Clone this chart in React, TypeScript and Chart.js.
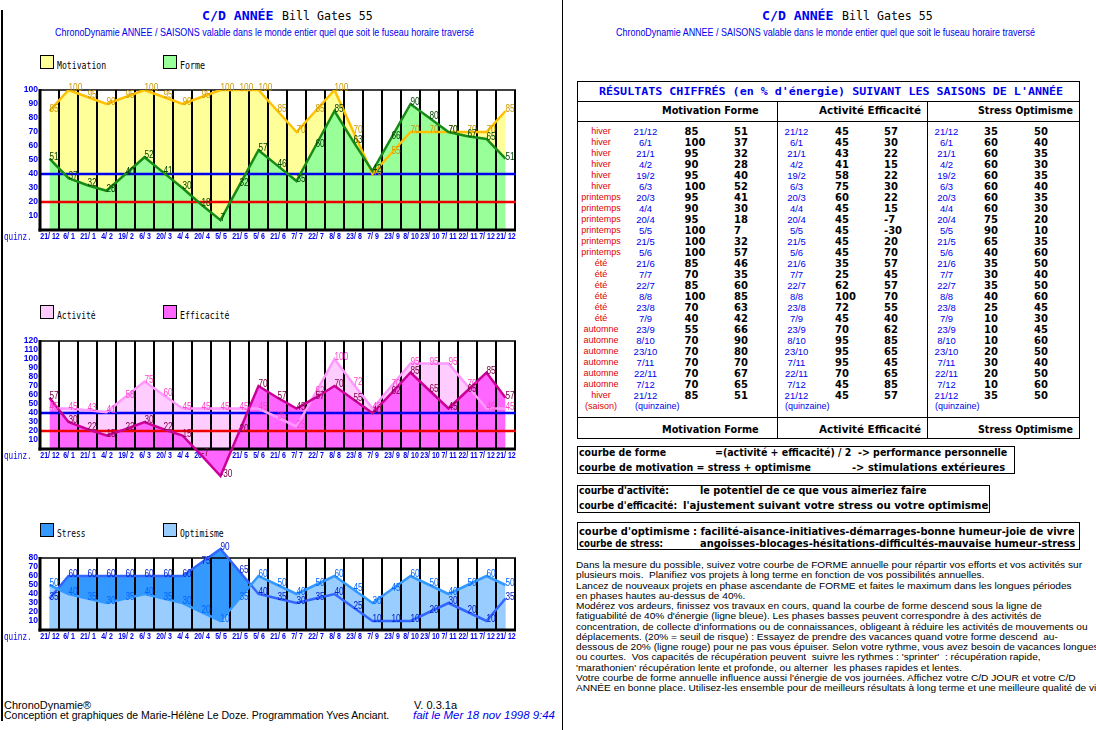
import React, { useEffect, useLayoutEffect, useRef } from 'react';
import { Chart, registerables } from 'chart.js';
Chart.register(...registerables);

// ---------- DATA ----------
const dates = ['21/12', '6/1', '21/1', '4/2', '19/2', '6/3', '20/3', '4/4', '20/4', '5/5', '21/5', '5/6', '21/6', '7/7', '22/7', '8/8', '23/8', '7/9', '23/9', '8/10', '23/10', '7/11', '22/11', '7/12', '21/12'];
const seasons = ['hiver', 'hiver', 'hiver', 'hiver', 'hiver', 'hiver', 'printemps', 'printemps', 'printemps', 'printemps', 'printemps', 'printemps', 'été', 'été', 'été', 'été', 'été', 'été', 'automne', 'automne', 'automne', 'automne', 'automne', 'automne', 'hiver'];
const motivation = [85, 100, 95, 90, 95, 100, 95, 90, 95, 100, 100, 100, 85, 70, 85, 100, 70, 40, 55, 70, 70, 70, 70, 70, 85];
const forme = [51, 37, 32, 28, 40, 52, 41, 30, 18, 7, 32, 57, 46, 35, 60, 85, 63, 42, 66, 90, 80, 70, 67, 65, 51];
const activite = [45, 45, 43, 41, 58, 75, 60, 45, 45, 45, 45, 45, 35, 25, 62, 100, 72, 45, 70, 95, 95, 95, 70, 45, 45];
const efficacite = [57, 30, 22, 15, 22, 30, 22, 15, -7, -30, 20, 70, 57, 45, 57, 70, 55, 40, 62, 85, 65, 45, 65, 85, 57];
const stress = [35, 60, 60, 60, 60, 60, 60, 60, 75, 90, 65, 40, 35, 30, 35, 40, 25, 10, 10, 10, 20, 30, 20, 10, 35];
const optimisme = [50, 40, 35, 30, 35, 40, 35, 30, 20, 10, 35, 60, 50, 40, 50, 60, 45, 30, 45, 60, 50, 40, 50, 60, 50];
const ticksForme = [10, 20, 30, 40, 50, 60, 70, 80, 90, 100];
const ticksActivite = [10, 20, 30, 40, 50, 60, 70, 80, 90, 100, 110, 120];
const ticksStress = [10, 20, 30, 40, 50, 60, 70, 80];
const fatigueLevel = 40; // ligne bleue
const riskLevel = 20; // ligne rouge
const xLabels = dates.map((d) => d.replace('/', '/ '));

const paraLines = [
  'Dans la mesure du possible, suivez votre courbe de FORME annuelle pour répartir vos efforts et vos activités sur',
  'plusieurs mois.  Planifiez vos projets à long terme en fonction de vos possibilités annuelles.',
  'Lancez de nouveaux projets en phase ascendante de FORME et faites le maximum dans les longues périodes',
  'en phases hautes au-dessus de 40%.',
  'Modérez vos ardeurs, finissez vos travaux en cours, quand la courbe de forme descend sous la ligne de',
  "fatiguabilité de 40% d'énergie (ligne bleue). Les phases basses peuvent correspondre à des activités de",
  "concentration, de collecte d'informations ou de connaissances, obligeant à réduire les activités de mouvements ou",
  'déplacements. (20% = seuil de risque) : Essayez de prendre des vacances quand votre forme descend  au-',
  'dessous de 20% (ligne rouge) pour ne pas vous épuiser. Selon votre rythme, vous avez besoin de vacances longues',
  "ou courtes.  Vos capacités de récupération peuvent  suivre les rythmes : 'sprinter'  : récupération rapide,",
  "'marathonien' récupération lente et profonde, ou alterner  les phases rapides et lentes.",
  "Votre courbe de forme annuelle influence aussi l'énergie de vos journées. Affichez votre C/D JOUR et votre C/D",
  'ANNÉE en bonne place. Utilisez-les ensemble pour de meilleurs résultats à long terme et une meilleure qualité de vie',
];

const BLUE = '#0000ee';
const RED = '#e00000';

type Ser = { name: string; data: number[]; line: string; fill: string; text: string };

function scaledText(ctx: CanvasRenderingContext2D, t: string, x: number, y: number, sx: number) {
  ctx.save();
  ctx.translate(x, y);
  ctx.scale(sx, 1);
  ctx.fillText(t, 0, 0);
  ctx.restore();
}

function LineChart({ top, height, yMin, yMax, frameMax, ticks, padTop, padBottom, series, levels }: {
  top: number; height: number; yMin: number; yMax: number; frameMax: number; ticks: number[]; padTop: number; padBottom: number; series: Ser[]; levels: boolean;
}) {
  const ref = useRef<HTMLCanvasElement>(null);
  useEffect(() => {
    const cv = ref.current!;
    const decor = {
      id: 'decor',
      beforeDraw(chart: any) {
        const { ctx, chartArea: a, scales } = chart;
        const x = scales.x, y = scales.y;
        const y0 = y.getPixelForValue(0);
        ctx.save();
        ctx.fillStyle = BLUE;
        ctx.font = 'bold 9px "Liberation Sans"';
        ctx.textAlign = 'right';
        ctx.textBaseline = 'middle';
        ticks.forEach((t) => scaledText(ctx, String(t), a.left - 2, y.getPixelForValue(t), 0.95));
        ctx.textAlign = 'center';
        xLabels.forEach((l, i) => scaledText(ctx, l, x.getPixelForValue(i) + 0.5, y0 + 7, 0.78));
        ctx.textAlign = 'left';
        ctx.font = '10px "Liberation Mono"';
        scaledText(ctx, 'quinz.', 4, y0 + 7, 0.77);
        ctx.restore();
      },
      beforeDatasetsDraw(chart: any) {
        const { ctx, chartArea: a, scales } = chart;
        const x = scales.x, y = scales.y;
        const y0 = y.getPixelForValue(0);
        const yt = y.getPixelForValue(frameMax);
        const n = xLabels.length;
        ctx.save();
        ctx.strokeStyle = '#000';
        ctx.lineWidth = 2;
        for (let i = 1; i <= n; i++) {
          const gx = Math.round(x.getPixelForValue(i - 0.5));
          ctx.beginPath();
          ctx.moveTo(gx, yt);
          ctx.lineTo(gx, y0);
          ctx.stroke();
        }
        ctx.lineWidth = 1.5;
        ctx.beginPath();
        ctx.moveTo(a.left, yt);
        ctx.lineTo(a.right + 1, yt);
        ctx.stroke();
        if (levels) {
          const lv = [
            { v: fatigueLevel, c: '#0000ee' },
            { v: riskLevel, c: '#ee0000' },
          ];
          lv.forEach(({ v, c }) => {
            const ly = y.getPixelForValue(v);
            ctx.strokeStyle = c;
            ctx.lineWidth = 2.5;
            ctx.beginPath();
            ctx.moveTo(a.left, ly);
            ctx.lineTo(a.right + 1, ly);
            ctx.stroke();
          });
        }
        ctx.strokeStyle = '#000';
        ctx.lineWidth = 3;
        ctx.beginPath();
        ctx.moveTo(a.left, yt - 1);
        ctx.lineTo(a.left, y0 + 1.5);
        ctx.stroke();
        ctx.beginPath();
        ctx.moveTo(a.left - 1.5, y0);
        ctx.lineTo(a.right + 1, y0);
        ctx.stroke();
        ctx.restore();
      },
      afterDatasetsDraw(chart: any) {
        const { ctx, scales } = chart;
        const x = scales.x, y = scales.y;
        ctx.save();
        ctx.font = '11px "Liberation Sans"';
        ctx.textAlign = 'left';
        ctx.textBaseline = 'alphabetic';
        for (let s = series.length - 1; s >= 0; s--) {
          const ser = series[s];
          ctx.fillStyle = ser.text;
          ser.data.forEach((v, i) => {
            scaledText(ctx, String(v), x.getPixelForValue(i), y.getPixelForValue(v) + 1, 0.75);
          });
        }
        ctx.restore();
      },
    };
    const chart = new Chart(cv, {
      type: 'line',
      data: {
        labels: xLabels,
        datasets: series.map((s) => ({
          label: s.name,
          data: s.data,
          borderColor: s.line,
          backgroundColor: s.fill,
          borderWidth: 2.5,
          fill: 'origin',
          pointRadius: 0,
          tension: 0,
        })),
      },
      options: {
        responsive: false,
        animation: false,
        devicePixelRatio: 1,
        layout: { padding: { left: 40, right: 45, top: padTop, bottom: padBottom } },
        scales: {
          x: { type: 'category', display: false, offset: true },
          y: { display: false, min: yMin, max: yMax },
        },
        plugins: {
          legend: { display: false },
          tooltip: { enabled: false },
          filler: { drawTime: 'beforeDatasetsDraw' },
        } as any,
      },
      plugins: [decor],
    });
    return () => chart.destroy();
  }, []);
  return <canvas ref={ref} width={560} height={height} style={{ position: 'absolute', left: 0, top, width: 560, height }} />;
}

function FT({ x, y, w, text, font, color = '#000', italic = false }: { x: number; y: number; w?: number; text: string; font: string; color?: string; italic?: boolean }) {
  const ref = useRef<HTMLDivElement>(null);
  useLayoutEffect(() => {
    const el = ref.current;
    if (!el || !w) return;
    el.style.transform = 'none';
    const nat = el.offsetWidth;
    if (nat > 0) el.style.transform = `scaleX(${w / nat})`;
  }, [w, text, font]);
  const fs = parseFloat((font.match(/([\d.]+)px/) || ['', '10'])[1]);
  return (
    <div ref={ref} style={{ position: 'absolute', left: x, top: y - fs * 0.62, font, color, whiteSpace: 'pre', lineHeight: `${fs * 1.2}px`, transformOrigin: '0 0', fontStyle: italic ? 'italic' : 'normal' }}>
      {text}
    </div>
  );
}

function T({ x, y, text, font, color = '#000', center = false }: { x: number; y: number; text: string; font: string; color?: string; center?: boolean }) {
  const fs = parseFloat((font.match(/([\d.]+)px/) || ['', '10'])[1]);
  return (
    <div style={{ position: 'absolute', left: x, top: y - fs * 0.62, font, color, whiteSpace: 'pre', lineHeight: `${fs * 1.2}px`, transform: center ? 'translateX(-50%)' : undefined }}>
      {text}
    </div>
  );
}

function Box({ x, y, w, h, bg, border = '1px solid #000' }: { x: number; y: number; w: number; h: number; bg?: string; border?: string }) {
  return <div style={{ position: 'absolute', left: x, top: y, width: w, height: h, background: bg, border, boxSizing: 'border-box' }} />;
}

function Line({ x, y, w, h, c = '#000' }: { x: number; y: number; w: number; h: number; c?: string }) {
  return <div style={{ position: 'absolute', left: x, top: y, width: w, height: h, background: c }} />;
}

const LEG_FONT = '11px "DejaVu Sans Mono"';

function Legend({ y, a, b }: { y: number; a: { c: string; t: string; w: number }; b: { c: string; t: string; w: number } }) {
  return (
    <>
      <Box x={40} y={y} w={14} h={14} bg={a.c} />
      <FT x={57} y={y + 11} w={a.w} text={a.t} font={LEG_FONT} />
      <Box x={163} y={y} w={14} h={14} bg={b.c} />
      <FT x={180} y={y + 11} w={b.w} text={b.t} font={LEG_FONT} />
    </>
  );
}

function Para() {
  const ref = useRef<HTMLDivElement>(null);
  useLayoutEffect(() => {
    const el = ref.current!;
    const first = el.firstElementChild as HTMLElement;
    el.style.transform = `scaleX(${506 / first.offsetWidth})`;
  }, []);
  return (
    <div ref={ref} style={{ position: 'absolute', left: 576, top: 566 - 6, transformOrigin: '0 0', font: '9px "Liberation Sans"', lineHeight: '10.25px', whiteSpace: 'pre', color: '#000' }}>
      {paraLines.map((l, i) => (
        <div key={i} style={{ width: 'max-content' }}>{l}</div>
      ))}
    </div>
  );
}

function Titles({ x1, x2, xs }: { x1: number; x2: number; xs: number }) {
  return (
    <>
      <FT x={x1} y={16} w={71} text="C/D ANNÉE" font='bold 13px "DejaVu Sans Mono"' color={BLUE} />
      <FT x={x2} y={16} w={91} text="Bill Gates 55" font='13px "DejaVu Sans Mono"' color="#000" />
      <FT x={xs} y={32.5} w={419} text="ChronoDynamie ANNEE / SAISONS valable dans le monde entier quel que soit le fuseau horaire traversé" font='11px "Liberation Sans"' color={BLUE} />
    </>
  );
}

const VAL_FONT = 'bold 10px "DejaVu Sans"';
const DATE_FONT = '9.5px "Liberation Sans"';
const HEAD_FONT = 'bold 10px "DejaVu Sans"';
const BOX_FONT = 'bold 10px "DejaVu Sans"';

function Table() {
  const rowY = (i: number) => 131.7 + 11 * i;
  const groups = [
    { dx: 645.5, a: motivation, b: forme, ax: 684.5, bx: 734 },
    { dx: 796.5, a: activite, b: efficacite, ax: 835, bx: 884 },
    { dx: 946.5, a: stress, b: optimisme, ax: 984, bx: 1034 },
  ];
  const heads = [
    { x: 661.7, w: 96.3, t: 'Motivation Forme' },
    { x: 819, w: 101.6, t: 'Activité Efficacité' },
    { x: 978, w: 95, t: 'Stress Optimisme' },
  ];
  return (
    <>
      <Box x={577} y={81} w={503} h={358} />
      <Line x={577} y={101} w={503} h={1} />
      <Line x={577} y={121} w={503} h={1} />
      <Line x={577} y={416.5} w={503} h={1.5} />
      <Line x={777} y={101} w={1} h={338} />
      <Line x={927} y={101} w={1} h={338} />
      <FT x={598.7} y={91.5} w={464} text="RÉSULTATS CHIFFRÉS (en % d'énergie) SUIVANT LES SAISONS DE L'ANNÉE" font='bold 11px "DejaVu Sans Mono"' color={BLUE} />
      {heads.map((h, i) => (
        <React.Fragment key={i}>
          <FT x={h.x} y={111.5} w={h.w} text={h.t} font={HEAD_FONT} />
          <FT x={h.x} y={430} w={h.w} text={h.t} font={HEAD_FONT} />
        </React.Fragment>
      ))}
      {dates.map((d, i) => (
        <React.Fragment key={i}>
          <T x={601} y={rowY(i)} text={seasons[i]} font='9px "Liberation Sans"' color={RED} center />
          {groups.map((g, gi) => (
            <React.Fragment key={gi}>
              <T x={g.dx} y={rowY(i)} text={d} font={DATE_FONT} color={BLUE} center />
              <T x={g.ax} y={rowY(i)} text={String(g.a[i])} font={VAL_FONT} />
              <T x={g.bx} y={rowY(i)} text={String(g.b[i])} font={VAL_FONT} />
            </React.Fragment>
          ))}
        </React.Fragment>
      ))}
      <T x={585} y={406.7} text="(saison)" font='9px "Liberation Sans"' color={RED} />
      <T x={635} y={406.7} text="(quinzaine)" font='9px "Liberation Sans"' color={BLUE} />
      <T x={785} y={406.7} text="(quinzaine)" font='9px "Liberation Sans"' color={BLUE} />
      <T x={935} y={406.7} text="(quinzaine)" font='9px "Liberation Sans"' color={BLUE} />

      <Box x={577} y={446} w={438} h={28} />
      <FT x={579} y={453.5} w={87} text="courbe de forme" font={BOX_FONT} />
      <FT x={715} y={453.5} w={292} text="=(activité + efficacité) / 2  -> performance personnelle" font={BOX_FONT} />
      <FT x={579} y={468.5} w={232} text="courbe de motivation = stress + optimisme" font={BOX_FONT} />
      <FT x={852} y={468.5} w={153} text="-> stimulations extérieures" font={BOX_FONT} />

      <Box x={577} y={484.5} w={413} h={28} />
      <FT x={579} y={491} w={90} text="courbe d'activité:" font={BOX_FONT} />
      <FT x={700} y={491} w={226} text="le potentiel de ce que vous aimeriez faire" font={BOX_FONT} />
      <FT x={579} y={506} w={98} text="courbe d'efficacité:" font={BOX_FONT} />
      <FT x={683} y={506} w={305} text="l'ajustement suivant votre stress ou votre optimisme" font={BOX_FONT} />

      <Box x={577} y={522} w={503} h={28} />
      <FT x={579} y={532} w={496} text="courbe d'optimisme : facilité-aisance-initiatives-démarrages-bonne humeur-joie de vivre" font={BOX_FONT} />
      <FT x={579} y={544.5} w={84} text="courbe de stress:" font={BOX_FONT} />
      <FT x={700} y={544.5} w={375} text="angoisses-blocages-hésitations-difficultés-mauvaise humeur-stress" font={BOX_FONT} />
    </>
  );
}

export default function App() {
  const s1: Ser[] = [
    { name: 'Forme', data: forme, line: '#168c16', fill: '#99ff99', text: '#004400' },
    { name: 'Motivation', data: motivation, line: '#ffc000', fill: '#ffff99', text: '#cc9900' },
  ];
  const s2: Ser[] = [
    { name: 'Efficacité', data: efficacite, line: '#cc0099', fill: '#ff66ff', text: '#800045' },
    { name: 'Activité', data: activite, line: '#ff99ff', fill: '#ffccff', text: '#ff44cc' },
  ];
  const s3: Ser[] = [
    { name: 'Optimisme', data: optimisme, line: '#3399ff', fill: '#99ccff', text: '#0066ff' },
    { name: 'Stress', data: stress, line: '#3366ff', fill: '#3399ff', text: '#0022cc' },
  ];
  return (
    <div style={{ position: 'absolute', left: 0, top: 0, width: 1096, height: 730, background: '#fff', overflow: 'hidden' }}>
      <Line x={1} y={10} w={1.5} h={711} />
      <Line x={562} y={0} w={1} h={730} />
      <Titles x1={201.7} x2={282} xs={55} />
      <Titles x1={762} x2={842.4} xs={616} />

      <Legend y={55} a={{ c: '#ffff99', t: 'Motivation', w: 49 }} b={{ c: '#99ff99', t: 'Forme', w: 25 }} />
      <LineChart top={70} height={180} yMin={0} yMax={100} frameMax={100} ticks={ticksForme} padTop={20} padBottom={20} series={s1} levels={true} />

      <Legend y={305} a={{ c: '#ffccff', t: 'Activité', w: 38.7 }} b={{ c: '#ff66ff', t: 'Efficacité', w: 49.3 }} />
      <LineChart top={325} height={165} yMin={-35} yMax={120} frameMax={120} ticks={ticksActivite} padTop={16} padBottom={9.5} series={s2} levels={true} />

      <Legend y={523.3} a={{ c: '#3399ff', t: 'Stress', w: 28.7 }} b={{ c: '#99ccff', t: 'Optimisme', w: 44 }} />
      <LineChart top={530} height={120} yMin={0} yMax={95} frameMax={80} ticks={ticksStress} padTop={14.5} padBottom={20} series={s3} levels={false} />

      <FT x={4} y={705.7} w={87.5} text="ChronoDynamie®" font='10px "Liberation Sans"' />
      <FT x={4} y={716.5} w={385} text="Conception et graphiques de Marie-Hélène Le Doze. Programmation Yves Anciant." font='10px "Liberation Sans"' />
      <FT x={413.5} y={705.7} w={43} text="V. 0.3.1a" font='10px "Liberation Sans"' />
      <FT x={413} y={716.5} w={142} text="fait le Mer 18 nov 1998 9:44" font='10px "Liberation Sans"' color={BLUE} italic />

      <Table />
      <Para />
    </div>
  );
}
